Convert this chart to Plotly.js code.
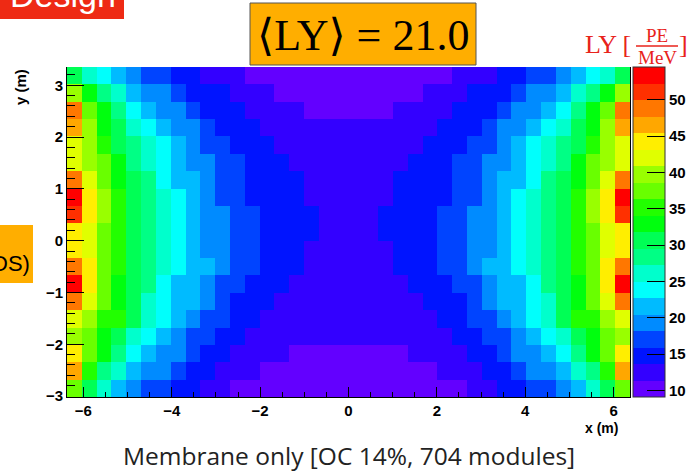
<!DOCTYPE html>
<html>
<head>
<meta charset="utf-8">
<script src="https://cdn.plot.ly/plotly-3.0.1.min.js"></script>
<style>html,body{margin:0;padding:0;background:#fff;overflow:hidden}#chart{width:698px;height:474px}</style>
</head>
<body>
<div id="chart"></div>
<script>
// ---- data: light yield (PE/MeV) per (x,y) bin, rows listed from top (y high) to bottom ----
const xBinStart = -6.37;   // m, left edge of first x bin
const yBinStart = -3.018;  // m, lower edge of first y bin
const binWidth = 0.3353;   // m
const zMin = 9.1, zMax = 54.5;
const colorbarTicks = [10, 15, 20, 25, 30, 35, 40, 45, 50];
const xTicks = [-6, -4, -2, 0, 2, 4, 6];
const yTicks = [-3, -2, -1, 0, 1, 2, 3];
const meanLY = "21.0";

const row00 = [30.7,26.1,23.9,21.6,19.3,17,17,14.8,14.8,12.5,12.5,12.5,10.2,10.2,10.2,10.2,10.2,10.2,10.2,10.2,10.2,10.2,10.2,10.2,10.2,10.2,12.5,12.5,12.5,14.8,14.8,17,17,19.3,21.6,23.9,26.1,30.7];
const row01 = [39.7,32.9,28.4,26.1,21.6,19.3,19.3,17,14.8,14.8,14.8,12.5,12.5,12.5,10.2,10.2,10.2,10.2,10.2,10.2,10.2,10.2,10.2,10.2,12.5,12.5,12.5,14.8,14.8,14.8,17,19.3,19.3,21.6,26.1,28.4,32.9,39.7];
const row02 = [48.8,37.5,32.9,28.4,23.9,21.6,19.3,19.3,17,14.8,14.8,14.8,12.5,12.5,12.5,12.5,10.2,10.2,10.2,10.2,10.2,10.2,12.5,12.5,12.5,12.5,14.8,14.8,14.8,17,19.3,19.3,21.6,23.9,28.4,32.9,37.5,48.8];
const row03 = [46.6,39.7,32.9,30.7,26.1,23.9,21.6,19.3,19.3,17,14.8,14.8,14.8,12.5,12.5,12.5,12.5,12.5,12.5,12.5,12.5,12.5,12.5,12.5,12.5,14.8,14.8,14.8,17,19.3,19.3,21.6,23.9,26.1,30.7,32.9,39.7,46.6];
const row04 = [42,39.7,35.2,30.7,28.4,26.1,23.9,21.6,19.3,17,17,14.8,14.8,14.8,12.5,12.5,12.5,12.5,12.5,12.5,12.5,12.5,12.5,12.5,14.8,14.8,14.8,17,17,19.3,21.6,23.9,26.1,28.4,30.7,35.2,39.7,42];
const row05 = [42,39.7,37.5,32.9,28.4,26.1,23.9,21.6,19.3,19.3,17,17,14.8,14.8,14.8,12.5,12.5,12.5,12.5,12.5,12.5,12.5,12.5,14.8,14.8,14.8,17,17,19.3,19.3,21.6,23.9,26.1,28.4,32.9,37.5,39.7,42];
const row06 = [48.8,42,37.5,32.9,30.7,28.4,23.9,21.6,21.6,19.3,17,17,14.8,14.8,14.8,14.8,12.5,12.5,12.5,12.5,12.5,12.5,14.8,14.8,14.8,14.8,17,17,19.3,21.6,21.6,23.9,28.4,30.7,32.9,37.5,42,48.8];
const row07 = [53.4,44.3,39.7,35.2,30.7,28.4,26.1,23.9,21.6,19.3,17,17,14.8,14.8,14.8,14.8,12.5,12.5,12.5,12.5,12.5,12.5,14.8,14.8,14.8,14.8,17,17,19.3,21.6,23.9,26.1,28.4,30.7,35.2,39.7,44.3,53.4];
const row08 = [51.1,44.3,39.7,35.2,30.7,28.4,26.1,23.9,21.6,19.3,19.3,17,17,14.8,14.8,14.8,14.8,12.5,12.5,12.5,12.5,14.8,14.8,14.8,14.8,17,17,19.3,19.3,21.6,23.9,26.1,28.4,30.7,35.2,39.7,44.3,51.1];
const row09 = [44.3,42,37.5,35.2,30.7,28.4,26.1,23.9,21.6,19.3,19.3,17,17,14.8,14.8,14.8,14.8,12.5,12.5,12.5,12.5,14.8,14.8,14.8,14.8,17,17,19.3,19.3,21.6,23.9,26.1,28.4,30.7,35.2,37.5,42,44.3];
const row10 = [44.3,42,37.5,35.2,30.7,28.4,26.1,23.9,21.6,19.3,19.3,17,17,14.8,14.8,14.8,12.5,12.5,12.5,12.5,12.5,12.5,14.8,14.8,14.8,17,17,19.3,19.3,21.6,23.9,26.1,28.4,30.7,35.2,37.5,42,44.3];
const row11 = [48.8,44.3,37.5,35.2,30.7,28.4,26.1,23.9,21.6,21.6,19.3,17,17,14.8,14.8,14.8,12.5,12.5,12.5,12.5,12.5,12.5,14.8,14.8,14.8,17,17,19.3,21.6,21.6,23.9,26.1,28.4,30.7,35.2,37.5,44.3,48.8];
const row12 = [53.4,44.3,37.5,32.9,30.7,28.4,23.9,21.6,21.6,19.3,17,17,14.8,14.8,14.8,12.5,12.5,12.5,12.5,12.5,12.5,12.5,12.5,14.8,14.8,14.8,17,17,19.3,21.6,21.6,23.9,28.4,30.7,32.9,37.5,44.3,53.4];
const row13 = [48.8,42,37.5,32.9,30.7,26.1,23.9,21.6,21.6,19.3,17,14.8,14.8,14.8,12.5,12.5,12.5,12.5,12.5,12.5,12.5,12.5,12.5,12.5,14.8,14.8,14.8,17,19.3,21.6,21.6,23.9,26.1,30.7,32.9,37.5,42,48.8];
const row14 = [42,39.7,35.2,35.2,30.7,26.1,23.9,21.6,19.3,17,17,14.8,14.8,12.5,12.5,12.5,12.5,12.5,12.5,12.5,12.5,12.5,12.5,12.5,12.5,14.8,14.8,17,17,19.3,21.6,23.9,26.1,30.7,35.2,35.2,39.7,42];
const row15 = [39.7,37.5,32.9,30.7,26.1,23.9,21.6,19.3,17,17,14.8,14.8,12.5,12.5,12.5,12.5,12.5,12.5,12.5,12.5,12.5,12.5,12.5,12.5,12.5,12.5,14.8,14.8,17,17,19.3,21.6,23.9,26.1,30.7,32.9,37.5,39.7];
const row16 = [44.3,37.5,32.9,28.4,23.9,21.6,19.3,19.3,17,14.8,14.8,12.5,12.5,12.5,12.5,10.2,10.2,10.2,10.2,10.2,10.2,10.2,10.2,12.5,12.5,12.5,12.5,14.8,14.8,17,19.3,19.3,21.6,23.9,28.4,32.9,37.5,44.3];
const row17 = [46.6,35.2,28.4,26.1,21.6,19.3,19.3,17,14.8,14.8,12.5,12.5,12.5,10.2,10.2,10.2,10.2,10.2,10.2,10.2,10.2,10.2,10.2,10.2,10.2,12.5,12.5,12.5,14.8,14.8,17,19.3,19.3,21.6,26.1,28.4,35.2,46.6];
const row18 = [37.5,30.7,26.1,21.6,19.3,17,17,14.8,14.8,12.5,12.5,10.2,10.2,10.2,10.2,10.2,10.2,10.2,10.2,10.2,10.2,10.2,10.2,10.2,10.2,10.2,10.2,12.5,12.5,14.8,14.8,17,17,19.3,21.6,26.1,30.7,37.5];

const rowsTopToBottom = [row00,row01,row02,row03,row04,row05,row06,row07,row08,row09,row10,row11,row12,row13,row14,row15,row16,row17,row18];

// ---- style: ROOT "pretty palette" with 20 contour levels ----
const palette = ['rgb(99,0,255)','rgb(51,0,255)','rgb(0,20,255)','rgb(0,68,255)','rgb(0,139,255)',
  'rgb(0,187,255)','rgb(0,255,252)','rgb(0,255,204)','rgb(0,255,133)','rgb(0,255,85)',
  'rgb(0,255,14)','rgb(34,255,0)','rgb(105,255,0)','rgb(153,255,0)','rgb(224,255,0)',
  'rgb(255,238,0)','rgb(255,167,0)','rgb(255,119,0)','rgb(255,48,0)','rgb(255,0,0)'];
const colorscale = [];
palette.forEach((c, i) => {
  colorscale.push([i / palette.length, c]);
  colorscale.push([(i + 1) / palette.length, c]);
});

const W = 698, H = 474;
const M = {l: 67, r: 68, t: 67, b: 77, autoexpand: false};
const pw = W - M.l - M.r, ph = H - M.t - M.b;
const PX = p => (p - M.l) / pw;
const PY = p => (H - M.b - p) / ph;

const boldFont = {family: 'Liberation Sans, Arial, sans-serif', size: 15, color: '#000', weight: 'bold'};

const trace = {
  type: 'heatmap',
  z: rowsTopToBottom.slice().reverse(),
  x0: xBinStart + binWidth / 2, dx: binWidth,
  y0: yBinStart + binWidth / 2, dy: binWidth,
  zmin: zMin, zmax: zMax,
  zsmooth: false,
  colorscale: colorscale,
  hoverinfo: 'skip',
  colorbar: {
    x: PX(633), xanchor: 'left', xpad: 0,
    y: 0.5, yanchor: 'middle', ypad: 0,
    len: 1, lenmode: 'fraction',
    thickness: 32, thicknessmode: 'pixels',
    outlinewidth: 1, outlinecolor: '#333',
    tickmode: 'array', tickvals: colorbarTicks, ticktext: colorbarTicks.map(String),
    ticks: 'inside', ticklen: 18, tickwidth: 1, tickcolor: '#000',
    tickfont: boldFont
  }
};

const serif = 'Liberation Serif, DejaVu Serif, serif';
const red = '#e8231b';

const layout = {
  width: W, height: H,
  margin: M,
  paper_bgcolor: '#fff', plot_bgcolor: '#fff',
  showlegend: false,
  xaxis: {
    range: [xBinStart, -xBinStart],
    tickmode: 'array', tickvals: xTicks,
    ticks: 'inside', ticklen: 10, tickwidth: 1, tickcolor: '#000',
    minor: {dtick: 0.5, tick0: 0, ticks: 'inside', ticklen: 5, tickcolor: '#000'},
    showline: true, linecolor: '#000', linewidth: 1, mirror: false,
    showgrid: false, zeroline: false,
    tickfont: boldFont, fixedrange: true
  },
  yaxis: {
    range: [yBinStart, yBinStart + 19 * binWidth],
    tickmode: 'array', tickvals: yTicks,
    ticks: 'inside', ticklen: 17, tickwidth: 1, tickcolor: '#000',
    minor: {dtick: 0.2, tick0: 0, ticks: 'inside', ticklen: 8, tickcolor: '#000'},
    showline: true, linecolor: '#000', linewidth: 1, mirror: true,
    showgrid: false, zeroline: false,
    tickfont: boldFont, fixedrange: true
  },
  shapes: [
    {type: 'rect', xref: 'paper', yref: 'paper', x0: PX(0), x1: PX(124), y0: PY(19), y1: PY(-2),
      fillcolor: '#ee2a14', line: {width: 0}, layer: 'above'},
    {type: 'rect', xref: 'paper', yref: 'paper', x0: PX(250), x1: PX(476), y0: PY(65), y1: PY(3),
      fillcolor: '#ffae00', line: {color: '#555', width: 1}, layer: 'above'},
    {type: 'rect', xref: 'paper', yref: 'paper', x0: PX(-2), x1: PX(33), y0: PY(283), y1: PY(225),
      fillcolor: '#ffae00', line: {width: 0}, layer: 'above'},
    {type: 'line', xref: 'paper', yref: 'paper', x0: PX(636), x1: PX(678), y0: PY(46), y1: PY(46),
      line: {color: red, width: 1.5}, layer: 'above'}
  ],
  annotations: [
    {xref: 'paper', yref: 'paper', x: PX(63), y: PY(16), xanchor: 'center', yanchor: 'bottom',
      text: 'Design', showarrow: false, font: {family: 'Liberation Sans, Arial, sans-serif', size: 34, color: '#fff'}},
    {xref: 'paper', yref: 'paper', x: PX(363), y: PY(35), xanchor: 'center', yanchor: 'middle',
      text: '\u27E8LY\u27E9 = ' + meanLY, showarrow: false, font: {family: serif, size: 44, color: '#000'}},
    {xref: 'paper', yref: 'paper', x: PX(633), y: PY(44), xanchor: 'right', yanchor: 'middle',
      text: 'LY [', showarrow: false, font: {family: serif, size: 26, color: red}},
    {xref: 'paper', yref: 'paper', x: PX(657), y: PY(36), xanchor: 'center', yanchor: 'middle',
      text: 'PE', showarrow: false, font: {family: serif, size: 19, color: red}},
    {xref: 'paper', yref: 'paper', x: PX(657), y: PY(57), xanchor: 'center', yanchor: 'middle',
      text: 'MeV', showarrow: false, font: {family: serif, size: 19, color: red}},
    {xref: 'paper', yref: 'paper', x: PX(677), y: PY(44), xanchor: 'left', yanchor: 'middle',
      text: ']', showarrow: false, font: {family: serif, size: 26, color: red}},
    {xref: 'paper', yref: 'paper', x: PX(32), y: PY(263), xanchor: 'right', yanchor: 'middle',
      text: 'DS)', showarrow: false, font: {family: 'Liberation Sans, Arial, sans-serif', size: 22, color: '#000'}},
    {xref: 'paper', yref: 'paper', x: PX(20), y: PY(67), xanchor: 'center', yanchor: 'top',
      text: 'y (m)', textangle: -90, showarrow: false, font: boldFont},
    {xref: 'paper', yref: 'paper', x: PX(620), y: PY(418), xanchor: 'right', yanchor: 'top',
      text: 'x (m)', showarrow: false, font: {family: 'Liberation Sans, Arial, sans-serif', size: 14, color: '#000', weight: 'bold'}},
    {xref: 'paper', yref: 'paper', x: PX(349), y: PY(455), xanchor: 'center', yanchor: 'middle',
      text: 'Membrane only [OC 14%, 704 modules]', showarrow: false,
      font: {family: 'Open Sans, Liberation Sans, sans-serif', size: 24.5, color: '#222'}}
  ]
};

Plotly.newPlot('chart', [trace], layout, {staticPlot: true, displayModeBar: false});
</script>
</body>
</html>
